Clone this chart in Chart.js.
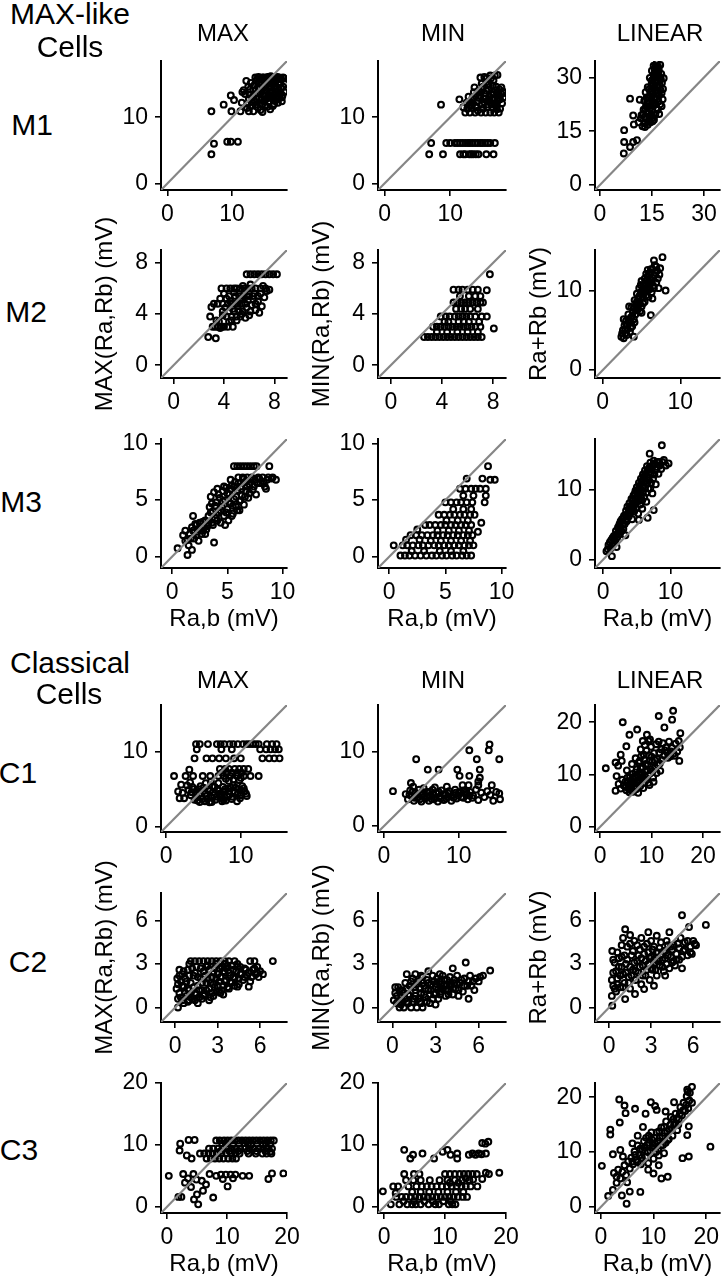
<!DOCTYPE html>
<html><head><meta charset="utf-8">
<script src="https://cdn.jsdelivr.net/npm/chart.js@4.4.1/dist/chart.umd.min.js"></script>
<style>
html,body{margin:0;padding:0;background:#fff;overflow:hidden;}
#page{position:relative;width:726px;height:1280px;font-family:'Liberation Sans',Arial,Helvetica,sans-serif;color:#000;}
.lbl{position:absolute;white-space:nowrap;line-height:1;transform:translate(-50%,-50%);}
canvas{position:absolute;}
</style></head><body><div id="page"></div>
<script>
// ---------- categories / labels ----------
const ROW_NAMES = ['M1','M2','M3','C1','C2','C3'];
const COL_NAMES = ['MAX','MIN','LINEAR'];
const Y_TITLES = ['MAX(Ra,Rb) (mV)','MIN(Ra,Rb) (mV)','Ra+Rb (mV)'];
const X_TITLE = 'Ra,b (mV)';
const SECTION_1 = ['MAX-like','Cells'];
const SECTION_2 = ['Classical','Cells'];

// ---------- axis ranges (same for x and y in each panel) ----------
const M1_RANGE = [[-1,18.5],[-1,18.5],[-1.4,34.6]];
const M2_RANGE = [[-1,9],[-1,9],[-1,15.1]];
const M3_RANGE = [[-1,10.4],[-1,10.4],[-1.2,17.3]];
const C1_RANGE = [[-0.7,16.2],[-0.8,16.3],[-1,23.3]];
const C2_RANGE = [[-1,7.9],[-1,7.9],[-1,7.9]];
const C3_RANGE = [[-1,20],[-1,20],[-1.1,22.6]];

// ---------- tick labels ----------
const M1_TICKS = [[0,10],[0,10],[0,15,30]];
const M2_TICKS = [[0,4,8],[0,4,8],[0,10]];
const M3_TICKS = [[0,5,10],[0,5,10],[0,10]];
const C1_TICKS = [[0,10],[0,10],[0,10,20]];
const C2_TICKS = [[0,3,6],[0,3,6],[0,3,6]];
const C3_TICKS = [[0,10,20],[0,10,20],[0,10,20]];

// ---------- series values [Ra,b , response] ----------
const M1_MAX = [[6.8,4.4],[7.2,6.0],[6.8,10.9],[8.7,11.9],[9.8,13.3],[9.25,6.3],[9.8,6.3],[10.9,6.3],[9.9,10.9],[10.3,12.6],[11.3,10.9],[12.6,10.9],[11.6,13.8],[15.5,11.6],[17.9,16.0],
[11.5,12.2],[12,13.5],[12.3,11.4],[12.6,12.8],[12.8,14.2],[13,11.8],[13.2,13.1],[13.4,14.8],[13.5,12.4],[13.7,15.5],[13.9,13.6],[14,11.5],[14.2,12.9],[14.3,14.3],[14.5,15.8],[14.6,12],[14.8,13.4],[14.9,16],[15,14.8],[15.1,11.8],[15.2,12.7],[15.3,15.4],[15.4,13.9],[15.5,16.1],[15.6,12.3],[15.7,14.5],[15.8,13.1],[15.9,15.8],[16,16.2],[16.1,12.9],[16.2,14],[16.3,15.1],[16.4,13.4],[16.5,16],[16.6,12.5],[16.7,14.7],[16.8,13.8],[16.9,15.6],[17,16.1],[17.1,13.2],[17.2,14.2],[17.3,12.9],[17.4,15.3],[17.5,13.7],[17.6,14.4],[17.8,13.3],[18,15.9],[13.6,16],[14.1,16.1],[15.8,16.1],[16.7,16],[12.9,15.2],[11.8,14.1],[12.2,15.5],[14.4,11.1],[15.9,11.2],[16.3,11.7],[17.1,12.2],[17.7,12.4],[13.3,10.9],[14.7,10.8],
[12.4,12.0],[12.7,13.4],[13.1,12.3],[13.3,14.1],[13.6,11.9],[13.8,12.8],[14.0,14.6],[14.2,15.3],[14.4,13.7],[14.6,14.9],[14.9,12.4],[15.1,13.2],[15.3,14.1],[15.5,12.9],[15.7,15.1],[15.9,13.7],[16.1,14.5],[16.3,13.0],[16.5,12.0],[16.6,15.4],[16.8,14.3],[17.0,12.8],[17.2,15.0],[17.4,13.4],[17.6,15.8],[17.9,14.6],[18.1,13.8],[16.0,15.3],[15.2,15.9],[14.7,16.0],[13.9,15.8],[17.7,13.0],[16.9,13.0],[15.0,13.6],[14.5,12.6],[13.5,13.5],[12.5,14.6],[18.2,15.0],[17.3,16.0],[16.2,16.0]];
const M1_MIN = [[8.6,11.9],
[7.1,6.1],[9.4,6.1],[10.0,6.1],[10.7,6.1],[11.1,6.1],[11.5,6.1],[12.3,6.1],[12.7,6.1],[13.0,6.1],[13.8,6.1],[14.2,6.1],[14.6,6.1],[15.3,6.1],[15.7,6.1],[16.1,6.1],[16.8,6.1],[11.9,6.1],[13.4,6.1],[14.9,6.1],
[6.8,4.4],[8.9,4.4],[11.5,4.4],[12.3,4.4],[12.9,4.4],[13.5,4.4],[14.3,4.4],[15.5,4.4],[16.6,4.4],[12.0,4.4],[13.2,4.4],[13.9,4.4],
[11.4,12.7],[12,11.5],[12.3,10.7],[12.5,12.2],[12.8,13.1],[13,10.7],[13.2,11.8],[13.4,12.9],[13.6,13.8],[13.8,10.7],[14,11.6],[14.1,12.5],[14.3,14],[14.5,13.2],[14.6,16],[14.7,10.7],[14.9,11.9],[15,14.6],[15.1,12.8],[15.3,13.6],[15.4,10.7],[15.5,15.3],[15.6,11.5],[15.7,12.4],[15.8,14.2],[16,13.1],[16.1,10.7],[16.2,15.9],[16.3,11.9],[16.4,12.7],[16.5,14.8],[16.6,13.5],[16.7,10.7],[16.8,16.3],[16.9,14.1],[17,12.2],[17.1,11.2],[17.2,13.8],[17.3,12.8],[17.5,14.2],[17.6,11.3],[17.8,13.5],[18,13.9],[18.2,13.7],[17.2,16.4],[16.1,16.3],[15.2,16.1],[13.7,14.5],[14.8,15.1],[17.4,10.7],[13.3,11.4],[17.1,11.6],
[12.6,11.3],[13.0,12.4],[13.5,12.1],[13.9,13.2],[14.2,11.0],[14.4,12.9],[14.7,13.8],[15.0,11.3],[15.2,12.3],[15.5,14.0],[15.8,11.9],[16.0,12.6],[16.3,13.4],[16.5,11.4],[16.7,12.9],[17.0,14.6],[17.2,12.4],[17.4,13.3],[17.6,12.7],[17.9,12.1],[18.1,13.0],[15.9,14.9],[16.6,15.6],[14.9,14.2],[13.9,11.5],[12.9,11.8],[15.4,12.8],[17.8,14.5],[16.9,11.8],[15.6,15.9]];
const M1_LIN = [[6.9,8.8],[7.0,12.0],[7.0,15.3],[8.7,10.6],[9.6,12.0],[10.7,12.5],[8.7,24.1],[11.5,23.8],[9.6,19.4],[9.8,16.9],[15.6,18.2],
[11.2,17.5],[11.8,18.6],[12.3,16.4],[12.5,19.8],[12.9,17.2],[13.1,21.3],[13.4,18.4],[13.6,22.9],[13.8,16.8],[14,20.1],[14.1,24.6],[14.3,19.2],[14.5,26.1],[14.6,17.5],[14.7,22.2],[14.9,27.8],[15,23.6],[15.1,20.7],[15.2,29.3],[15.3,25.4],[15.4,18.8],[15.5,30.8],[15.6,26.9],[15.7,22.9],[15.8,32.2],[15.9,28.5],[16,24.4],[16.1,33.2],[16.2,30.1],[16.3,21.5],[16.4,27.3],[16.5,31.6],[16.6,25.6],[16.7,29.1],[16.8,33],[16.9,23.3],[17,30.6],[17.2,27.9],[17.4,22.5],[17.6,29.5],[17.8,25.7],[18.1,23.9],[18.4,29.8],[13.2,25.9],[13.8,27.3],[12.8,23.5],[14.4,29.9],[15,31.9],[16,19.6],[17.1,19.8],
[12.0,19.5],[12.6,21.0],[13.0,19.0],[13.3,22.0],[13.5,24.4],[13.7,20.0],[14.0,22.9],[14.2,26.7],[14.4,21.4],[14.6,24.8],[14.8,19.6],[14.9,29.1],[15.1,26.0],[15.3,22.1],[15.4,28.3],[15.6,30.0],[15.7,24.2],[15.9,31.3],[16.0,26.4],[16.2,28.8],[16.3,32.5],[16.5,24.0],[16.6,30.4],[16.8,27.5],[17.0,32.0],[17.1,25.0],[17.3,30.0],[17.5,26.5],[17.7,31.0],[17.9,28.5],[15.2,17.8],[16.7,21.0],[14.1,18.0],[13.0,16.2],[15.5,33.3],[16.4,34.0],[17.4,33.5],[18.2,26.8],[17.8,22.0],[16.0,22.9]];

const M2_MAX = [[3.0,4.55],[2.9,3.8],[2.75,2.2],[3.35,2.1],
[5.8,7.1],[6.1,7.1],[6.4,7.1],[6.7,7.1],[7.0,7.1],[7.3,7.1],[7.6,7.1],[7.9,7.1],[8.2,7.1],
[3.8,6.0],[4.2,6.0],[4.5,6.0],[4.8,6.0],[5.0,6.0],[5.3,6.0],[5.6,6.0],[5.9,6.0],[6.2,6.0],[6.5,6.0],[6.9,6.0],[7.3,6.0],[7.6,5.9],
[4.4,5.4],[4.9,5.4],[5.2,5.4],[5.5,5.4],[5.8,5.4],[6.0,5.4],[6.3,5.4],[6.7,5.4],
[3.2,4.8],[3.5,4.8],[3.9,4.8],[4.3,4.8],[4.6,4.8],[4.9,4.8],[5.1,4.8],[5.4,4.8],[5.7,4.8],[6.5,4.8],
[3.9,4.2],[4.4,4.2],[4.8,4.2],[5.2,4.2],[5.5,4.2],[6.1,4.2],
[4.2,3.8],[4.6,3.8],[5.0,3.8],[5.3,3.8],
[3.1,3.0],[3.3,3.0],[3.5,3.0],[3.8,3.0],[4.0,3.0],[4.3,3.0],[4.7,3.0],
[3.7,5.2],[4.0,5.6],[4.1,4.5],[4.4,3.4],[4.5,5.0],[4.7,4.4],[4.8,5.7],[5.0,3.5],[5.1,4.6],[5.3,5.1],[5.4,4.0],[5.6,5.6],[5.8,4.5],[5.9,5.1],[6.0,3.9],[6.2,4.7],[6.4,5.6],[6.5,4.3],[6.7,5.0],[6.9,5.6],[7.0,4.6],[7.2,5.3],[7.4,5.8],[6.8,4.1],[5.7,3.7],[4.6,3.5],[3.6,3.4],[3.9,3.9],[4.2,5.2],[5.5,6.2],[6.1,6.3],[7.1,6.2],[3.4,3.5],[3.7,2.9]];
const M2_MIN = [[2.6,2.2],[2.9,2.2],[3.2,2.2],[3.5,2.2],[3.8,2.2],[4.1,2.2],[4.4,2.2],[4.7,2.2],[5.0,2.2],[5.3,2.2],[5.6,2.2],[5.9,2.2],[6.2,2.2],[6.5,2.2],[6.8,2.2],[7.1,2.2],
[3.3,3.0],[3.6,3.0],[3.9,3.0],[4.2,3.0],[4.5,3.0],[4.8,3.0],[5.1,3.0],[5.4,3.0],[5.7,3.0],[6.0,3.0],[6.3,3.0],[6.6,3.0],[7.0,3.0],
[3.9,3.8],[4.3,3.8],[4.6,3.8],[5.0,3.8],[5.3,3.8],[5.6,3.8],[5.9,3.8],[6.2,3.8],[6.6,3.8],[7.1,3.8],
[4.9,4.9],[5.2,4.9],[5.5,4.9],[5.8,4.9],[6.1,4.9],[6.4,4.9],[6.7,4.9],[7.0,4.9],
[4.9,5.9],[5.3,5.9],[5.6,5.9],[6.0,5.9],[6.4,5.9],[6.8,5.9],[7.5,5.86],
[7.74,7.1],[8.05,2.87],[7.5,3.8],[7.2,4.9],[5.5,4.4],[6.2,4.4],[6.6,5.4],
[3.6,2.6],[4.4,2.6],[5.2,2.6],[6.0,2.6],[6.8,2.6],[4.5,3.4],[5.3,3.4],[6.1,3.4],[6.9,3.4],[5.1,4.4],[5.8,4.4],[6.8,4.4],[5.4,5.4],[6.1,5.4],[7.0,5.4],[4.2,3.4],[5.7,3.4]];
const M2_LIN = [[2.4,4.2],[2.7,4.0],[2.9,4.6],[2.6,5.0],[2.8,5.6],[3.1,4.4],[3.2,5.2],[3.0,6.2],[3.4,5.9],[3.5,4.8],[3.6,6.6],[3.3,7.0],[3.8,5.5],[3.9,7.3],[4.0,6.4],[3.7,7.9],[4.2,7.0],[4.3,8.2],[4.1,8.8],[4.5,7.6],[4.6,9.0],[4.4,9.6],[4.8,8.3],[4.9,9.8],[4.7,10.3],[5.0,7.2],[5.1,9.1],[5.2,10.6],[5.0,11.2],[5.4,8.6],[5.5,9.9],[5.4,11.5],[5.7,10.4],[5.8,11.8],[5.6,12.1],[5.9,9.2],[6.0,10.9],[6.1,12.3],[6.2,11.4],[6.3,9.8],[6.4,12.7],[6.5,10.6],[6.6,11.9],[6.7,13.2],[6.9,11.0],[7.0,12.5],[7.2,10.3],[6.2,6.9],[7.7,14.2],[7.4,12.8],[8.1,10.0],[3.4,8.0],[4.0,4.2],[2.7,6.4],
[2.5,4.6],[2.9,5.1],[3.1,5.7],[3.3,6.3],[3.5,6.1],[3.6,5.3],[3.8,6.8],[4.0,7.8],[4.1,6.0],[4.3,7.5],[4.4,8.6],[4.6,8.3],[4.7,9.3],[4.8,7.4],[4.9,10.7],[5.0,8.0],[5.1,10.0],[5.2,8.4],[5.3,9.6],[5.5,10.8],[5.6,9.4],[5.7,11.2],[5.8,10.0],[5.9,11.0],[6.0,12.0],[6.1,10.2],[6.2,12.7],[6.3,11.0],[6.5,11.6],[6.6,10.3],[6.8,12.2],[6.9,13.0],[7.1,11.5],[7.3,12.0],[6.4,9.0],[5.8,12.6],[6.6,13.8]];

const M3_MAX = [[0.5,0.74],[1.4,0.15],[1.8,0.6],[1.9,3.6],[3.8,1.25],[5.3,6.8],[6.1,4.1],[4.8,2.8],[9.4,6.8],[8.5,6.0],
[5.6,8],[5.9,8],[6.2,8],[6.5,8],[6.8,8],[7.1,8],[7.4,8],[7.65,8],[8.8,8],
[1.0,1.9],[1.2,2.3],[1.4,1.5],[1.6,2.0],[1.8,2.6],[1.5,1.0],[2.0,1.6],[2.1,2.9],[2.3,2.2],[2.4,1.4],[2.6,3.0],[2.7,2.0],[2.9,2.6],[3.0,3.2],[3.2,2.7],[3.3,3.6],[3.4,4.4],[3.5,5.3],[3.6,3.0],[3.7,4.0],[3.8,5.7],[3.9,3.4],[4.0,4.8],[4.1,6.0],[4.2,3.9],[4.3,5.2],[4.4,3.0],[4.5,4.4],[4.6,5.8],[4.7,3.6],[4.8,5.0],[4.9,6.1],[5.0,4.2],[5.1,3.2],[5.2,5.5],[5.3,4.7],[5.4,6.3],[5.5,3.8],[5.6,5.1],[5.7,6.6],[5.8,4.4],[5.9,5.9],[6.0,7.0],[6.1,4.9],[6.2,6.2],[6.3,5.4],[6.4,7.0],[6.5,4.6],[6.6,6.6],[6.7,5.8],[6.8,7.0],[6.9,5.2],[7.0,6.4],[7.2,7.0],[7.3,5.9],[7.5,6.8],[7.6,5.5],[7.8,7.0],[8.0,6.5],[8.2,7.0],[8.4,6.2],[8.7,7.0],[9.0,6.9],[9.1,7.0],[2.5,3.0],[2.8,3.1],[2.2,2.8],[3.1,2.4],
[1.2,1.4],[1.7,1.6],[1.9,2.3],[2.2,1.9],[2.5,2.5],[2.8,2.3],[3.0,2.0],[3.3,3.0],[3.5,3.9],[3.6,4.7],[3.9,4.5],[4.0,3.7],[4.2,5.5],[4.4,4.1],[4.6,4.9],[4.7,6.2],[4.9,3.9],[5.0,5.6],[5.2,4.7],[5.3,6.0],[5.5,4.5],[5.6,6.2],[5.8,5.3],[5.9,4.1],[6.0,6.5],[6.2,5.0],[6.3,6.0],[6.5,6.9],[6.6,5.3],[6.8,6.2],[7.0,5.6],[7.1,6.8],[7.4,6.2],[7.7,6.5],[7.9,6.9],[8.3,6.6],[8.6,6.8],[4.1,3.2],[3.7,2.8],[5.4,3.6]];
const M3_MIN = [[1.0,0.1],[1.4,0.1],[1.8,0.1],[2.3,0.1],[2.8,0.1],[3.3,0.1],[3.8,0.1],[4.2,0.1],[4.7,0.1],[5.1,0.1],[5.6,0.1],[6.0,0.1],[6.5,0.1],[6.9,0.1],[7.3,0.1],
[0.4,1.0],[1.2,1.0],[1.6,1.0],[2.1,1.0],[2.6,1.0],[3.0,1.0],[3.5,1.0],[4.0,1.0],[4.4,1.0],[4.9,1.0],[5.3,1.0],[5.8,1.0],[6.2,1.0],[6.7,1.0],[7.1,1.0],[7.5,1.0],
[1.9,1.9],[2.4,1.9],[2.9,1.9],[3.4,1.9],[3.9,1.9],[4.3,1.9],[4.8,1.9],[5.2,1.9],[5.7,1.9],[6.1,1.9],[6.6,1.9],[7.0,1.9],[7.4,1.9],
[3.2,2.8],[3.6,2.8],[4.1,2.8],[4.6,2.8],[5.0,2.8],[5.5,2.8],[5.9,2.8],[6.4,2.8],[6.8,2.8],[7.3,2.8],[8.2,3.0],
[4.4,3.7],[4.9,3.7],[5.4,3.7],[5.8,3.7],[6.3,3.7],[6.7,3.7],[7.2,3.7],[7.6,3.7],
[5.0,4.8],[5.5,4.8],[6.0,4.8],[6.4,4.8],[6.9,4.8],[7.4,4.8],[8.5,4.8],
[6.3,6.0],[6.8,6.0],[7.3,6.0],[7.7,6.0],[8.1,6.0],[8.6,6.0],
[8.8,8.0],[6.9,6.9],[8.3,6.9],[9.4,6.8],[7.9,2.2],[9.0,6.8],[8.6,5.4],[2.5,2.4],[1.5,1.5],
[2.0,0.5],[3.1,0.5],[4.5,0.5],[5.5,0.5],[6.6,0.5],[2.7,1.5],[3.7,1.4],[4.6,1.4],[5.5,1.4],[6.4,1.4],[7.2,1.4],[4.3,2.3],[5.3,2.3],[6.2,2.3],[7.1,2.3],[5.1,3.2],[6.1,3.2],[7.0,3.2],[5.7,4.2],[6.6,4.2],[7.3,4.2],[6.6,5.4],[7.5,5.4]];
const M3_LIN = [[0.5,1.2],[0.8,2.1],[1.1,1.6],[1.2,2.8],[1.5,2.2],[1.6,3.4],[1.8,2.7],[1.9,4.1],[2.1,3.2],[2.2,4.6],[2.4,3.6],[2.5,5.2],[2.7,4.1],[2.8,5.8],[3.0,4.4],[3.1,6.3],[3.2,5.1],[3.4,7.0],[3.5,5.5],[3.6,7.6],[3.8,6.2],[3.9,8.1],[4.0,6.6],[4.1,7.3],[4.2,8.7],[4.3,5.8],[4.4,7.8],[4.5,9.2],[4.6,6.9],[4.7,8.4],[4.8,9.9],[4.9,7.4],[5.0,10.4],[5.1,8.9],[5.2,6.6],[5.3,11.0],[5.4,9.5],[5.5,7.9],[5.6,11.6],[5.7,10.0],[5.8,8.5],[5.9,12.2],[6.0,10.6],[6.1,9.0],[6.2,12.8],[6.3,11.3],[6.4,9.6],[6.5,13.4],[6.6,11.9],[6.7,10.2],[6.8,12.5],[7.0,13.9],[7.1,11.0],[7.2,12.9],[7.3,9.5],[7.5,14.2],[7.6,12.2],[7.8,10.8],[8.0,13.3],[8.3,14.0],[8.6,13.0],[8.7,16.4],[9.0,14.3],[9.3,13.5],[3.3,3.5],[2.0,1.8],[5.3,5.7],[6.9,15.2],[9.7,13.8],[1.3,0.5],[2.6,5.5],[6.6,6.0],[7.5,7.1],
[0.7,1.5],[1.0,2.5],[1.3,2.0],[1.4,3.1],[1.7,3.0],[2.0,3.6],[2.3,4.0],[2.4,5.0],[2.6,4.6],[2.9,5.0],[3.0,6.0],[3.3,5.6],[3.4,6.4],[3.7,6.6],[3.8,7.2],[4.0,7.7],[4.2,7.0],[4.4,8.5],[4.5,7.4],[4.7,9.5],[4.8,8.0],[5.0,9.1],[5.1,10.0],[5.3,8.4],[5.4,10.6],[5.6,9.0],[5.7,11.2],[5.9,9.6],[6.0,11.9],[6.2,10.3],[6.3,12.3],[6.5,10.9],[6.6,12.9],[6.8,11.4],[6.9,13.3],[7.1,12.4],[7.3,13.5],[7.4,11.6],[7.6,13.8],[7.8,12.9],[8.0,14.0],[8.2,12.3],[8.4,13.5],[8.8,14.0],[7.0,10.2],[6.4,8.3],[5.8,7.3]];

const C1_MAX = [[4.0,11],[4.5,11],[5.6,11],[6.8,11],[7.3,11],[7.8,11],[8.5,11],[9.0,11],[9.6,11],[10.3,11],[10.8,11],[11.2,11],[11.6,11],[12.0,11],[12.4,11],[13.5,11],[14.2,11],[14.8,11],
[4.1,10.3],[7.4,10.3],[8.8,10.3],[12.6,10.3],[13.4,10.3],[14.0,10.3],[14.6,10.3],[15.1,10.3],
[3.8,9.1],[5.4,9.1],[6.2,9.1],[7.1,9.1],[8.0,9.1],[9.1,9.1],[10.0,9.1],[12.9,9.1],[13.8,9.1],[14.5,9.1],[15.2,9.1],
[7.2,7.7],[7.9,7.7],[8.4,7.7],[9.2,7.7],[9.8,7.7],[10.4,7.7],[11.0,7.7],
[1.05,6.75],[2.6,6.75],[3.6,6.75],[4.9,6.75],[5.9,6.75],[7.0,6.75],[7.7,6.75],[8.6,6.75],[9.5,6.75],[10.4,6.75],[11.3,6.75],[12.4,6.75],
[2.0,5.6],[2.2,4.5],[2.4,3.8],[3.0,4.9],[3.3,4.2],[3.5,5.3],[3.8,3.6],[4.0,4.6],[4.3,5.0],[4.5,3.3],[4.7,4.1],[5.0,5.2],[5.2,4.4],[5.5,3.7],[5.8,3.25],[5.9,4.8],[6.2,5.4],[6.4,4.2],[6.6,3.6],[6.9,5.0],[7.1,4.4],[7.3,3.9],[7.6,5.3],[7.8,4.7],[8.0,3.5],[8.3,5.1],[8.5,4.3],[8.8,3.7],[9.0,5.5],[9.2,4.6],[9.5,3.4],[9.7,5.0],[10.0,4.2],[10.2,5.4],[10.5,4.7],[10.8,4.1],[6.0,6.0],[8.4,6.1],[9.8,6.2],[3.2,5.9],[1.6,4.7],[1.8,3.8],[3.1,7.6],[2.8,5.5],[5.3,5.8],[7.0,5.8],
[3.4,4.6],[3.7,5.0],[4.1,3.9],[4.4,4.4],[4.6,5.4],[4.9,3.7],[5.1,4.8],[5.4,4.1],[5.6,5.0],[6.0,3.9],[6.3,4.6],[6.5,5.3],[6.8,4.0],[7.0,4.8],[7.4,4.2],[7.7,3.6],[7.9,5.0],[8.2,4.0],[8.4,4.7],[8.7,5.2],[8.9,4.0],[9.3,5.2],[9.6,4.4],[9.9,3.8],[10.1,4.8],[10.4,5.1],[10.7,4.4],[6.1,3.3],[7.5,3.4],[5.2,3.4],[4.2,3.5],
[7.5,7.2],[8.1,7.2],[8.8,7.2],[9.5,7.2],[10.1,7.2],[9.0,6.3],[10.0,6.5],[8.0,6.4]];
const C1_MIN = [[2.9,4.3],[3.2,3.6],[3.5,4.8],[3.7,4.0],[4.0,3.4],[4.2,4.5],[4.5,3.8],[4.7,4.9],[5.0,3.3],[5.2,4.2],[5.5,3.7],[5.7,4.6],[6.0,3.4],[6.2,4.1],[6.5,4.9],[6.7,3.6],[7.0,4.4],[7.2,3.3],[7.5,4.0],[7.7,4.8],[8.0,3.5],[8.2,4.3],[8.5,3.9],[8.7,4.7],[9.0,3.4],[9.2,4.2],[9.5,4.9],[9.7,3.7],[10.0,4.5],[10.3,3.9],[10.6,4.8],[10.9,4.3],[11.2,3.6],[11.5,4.6],[11.9,4.1],[12.3,4.9],[12.6,3.5],[13.0,4.5],[13.4,3.9],[13.8,4.7],[14.2,4.2],[14.6,3.4],[15.0,4.6],[15.5,3.6],[15.4,4.4],[3.9,5.3],[5.3,5.1],[6.8,5.2],[8.4,5.3],[10.5,5.5],
[1.2,4.7],[4.3,9.0],[5.85,7.6],[7.3,7.6],[9.8,7.6],[10.1,6.76],[11.4,6.76],[12.8,7.6],[11.4,10.2],[14.0,10.2],[14.1,11.0],[12.4,9.0],[15.4,9.0],[12.8,6.5],[14.4,5.5],[11.3,5.5],[12.6,5.5],[12.6,6.0],[3.6,5.8],
[3.4,4.2],[3.8,4.6],[4.1,3.8],[4.4,4.2],[4.8,3.6],[5.1,4.6],[5.4,4.0],[5.8,3.9],[6.1,4.6],[6.4,3.6],[6.6,4.3],[6.9,3.8],[7.3,4.6],[7.6,3.7],[7.9,4.3],[8.3,3.7],[8.6,4.4],[8.9,4.0],[9.3,3.8],[9.6,4.5],[9.9,4.1],[10.2,4.6],[10.6,3.8],[11.0,4.6],[11.4,4.1],[11.8,3.8]];
const C1_LIN = [[3.6,8.2],[4.0,7.3],[4.3,9.0],[4.6,7.9],[4.9,8.6],[5.1,7.0],[5.3,9.4],[5.5,8.0],[5.7,6.6],[5.9,8.8],[6.1,7.5],[6.3,10.1],[6.4,6.7],[6.6,8.4],[6.8,9.6],[7.0,7.2],[7.1,11.0],[7.3,8.9],[7.5,12.3],[7.6,10.2],[7.8,7.8],[8.0,13.5],[8.1,9.3],[8.3,11.4],[8.5,8.4],[8.6,12.8],[8.8,10.6],[9.0,14.6],[9.1,9.0],[9.3,11.9],[9.5,13.7],[9.7,10.2],[9.9,15.3],[10.1,12.5],[10.3,9.4],[10.5,14.1],[10.7,11.3],[10.9,15.8],[11.1,13.0],[11.4,16.3],[11.6,12.1],[11.9,14.8],[12.2,16.0],[12.5,13.6],[12.8,15.2],[13.1,14.2],[13.4,16.3],[13.7,13.5],[14.0,15.1],[14.3,14.0],[14.7,15.9],[15.0,14.4],[15.3,16.4],[15.5,15.2],[6.9,13.1],[7.9,14.8],[8.7,15.6],[9.4,16.4],[5.2,10.8],[6.2,12.0],[7.4,6.5],[9.6,8.0],[10.4,8.6],[11.0,10.3],
[1.1,11.2],[4.4,20.0],[7.2,18.6],[5.7,17.6],[5.1,15.4],[4.0,13.8],[3.0,12.3],[3.0,6.9],[3.2,9.7],[11.4,21.2],[14.2,22.2],[14.0,20.5],[15.6,17.9],[12.5,19.0],[15.4,12.6],[11.7,10.7],[9.1,17.6],[8.3,16.4],[9.7,16.7],[3.5,11.7],[4.2,12.6],
[5.0,7.6],[5.4,8.6],[5.6,7.3],[5.8,9.5],[6.0,8.2],[6.2,6.9],[6.5,9.1],[6.7,7.7],[6.9,10.4],[7.2,8.3],[7.4,9.6],[7.7,8.7],[7.9,11.2],[8.2,10.0],[8.4,7.4],[8.7,9.6],[8.9,12.0],[9.2,10.8],[9.4,8.4],[9.6,12.6],[9.8,11.0],[10.0,13.4],[10.2,10.6],[10.6,12.8],[11.2,11.8],[11.5,14.2],[12.0,12.8],[12.6,14.6],[13.2,13.2],[13.8,14.4],[14.5,13.6],[7.7,12.6],[8.5,13.8]];

const C2_MAX = [[1.1,3.2],[1.4,3.2],[1.7,3.2],[2.0,3.2],[2.3,3.2],[2.6,3.2],[2.9,3.2],[3.2,3.2],[3.5,3.2],[3.8,3.2],[4.2,3.2],[5.3,3.2],[5.6,3.2],[6.9,3.2],
[0.1,1.3],[0.2,0.6],[0.3,1.0],[0.4,1.8],[0.5,2.3],[0.5,0.5],[0.6,1.4],[0.7,2.0],[0.8,0.8],[0.9,2.6],[1.0,1.2],[1.1,1.7],[1.2,0.6],[1.3,2.2],[1.4,1.0],[1.5,2.8],[1.6,1.5],[1.7,0.7],[1.8,2.0],[1.9,1.2],[2.0,2.5],[2.1,0.9],[2.2,1.7],[2.3,2.9],[2.4,1.3],[2.5,0.7],[2.6,2.1],[2.7,1.6],[2.8,2.7],[2.9,1.1],[3.0,2.3],[3.1,1.8],[3.2,1.0],[3.3,2.8],[3.4,1.5],[3.5,2.4],[3.6,1.9],[3.7,2.9],[3.8,1.3],[3.9,2.2],[4.0,1.7],[4.1,2.6],[4.2,2.0],[4.4,2.8],[4.5,1.6],[4.6,2.3],[4.8,1.9],[4.9,2.7],[5.1,2.2],[5.3,1.8],[5.5,2.6],[5.7,2.3],[4.4,1.44],[5.2,1.44],[5.8,2.8],[6.0,2.5],[6.2,2.3],[5.9,2.1],[0.2,0.0],[0.3,2.6],[0.9,0.4],[1.6,0.3],[2.4,0.5],[0.15,2.0],[3.4,0.9],[2.9,3.0],[1.0,3.0],
[0.2,1.6],[0.3,2.2],[0.4,0.7],[0.5,1.5],[0.6,2.5],[0.7,1.0],[0.8,1.8],[0.9,1.3],[1.0,2.2],[1.1,0.7],[1.2,2.7],[1.3,1.4],[1.4,2.4],[1.5,0.9],[1.6,2.1],[1.7,1.2],[1.8,2.7],[1.9,1.7],[2.0,0.8],[2.1,2.2],[2.2,1.2],[2.3,2.0],[2.4,2.6],[2.5,1.7],[2.6,1.0],[2.7,2.4],[2.8,1.4],[2.9,2.0],[3.0,1.5],[3.1,2.7],[3.2,2.1],[3.3,1.2],[3.4,2.5],[3.5,1.8],[3.6,2.7],[3.7,1.4],[3.8,2.4],[3.9,1.8],[4.0,2.9],[4.1,2.1],[4.2,1.5],[4.3,2.5],[4.5,2.0],[4.6,2.8],[4.7,2.3],[4.9,2.1],[5.0,2.6],[5.2,2.4],[5.4,2.1],[5.6,2.7],[5.8,2.4],[1.0,0.5],[1.9,0.6],[2.7,0.8],[3.1,1.1],[0.6,0.3],[1.4,0.5],[2.2,2.8],[3.5,3.0],[4.4,3.0]];
const C2_MIN = [[0.1,0.5],[0.2,1.0],[0.3,0.3],[0.4,1.4],[0.5,0.0],[0.6,0.7],[0.7,1.2],[0.8,0.0],[0.9,1.7],[1.0,0.4],[1.0,2.3],[1.1,0.9],[1.2,1.5],[1.3,0.0],[1.4,2.0],[1.5,0.6],[1.6,1.2],[1.7,0.0],[1.8,1.8],[1.9,0.4],[2.0,1.0],[2.1,2.1],[2.1,0.0],[2.2,1.5],[2.3,0.7],[2.4,1.9],[2.5,1.2],[2.6,0.3],[2.7,1.6],[2.8,2.2],[2.9,0.9],[3.0,1.4],[3.1,2.0],[3.2,0.6],[3.3,1.8],[3.4,1.1],[3.5,2.2],[3.6,1.5],[3.7,0.8],[3.8,1.9],[3.9,1.2],[4.0,2.1],[4.1,1.6],[4.2,0.9],[4.3,1.9],[4.4,1.3],[4.5,2.2],[4.7,1.7],[4.9,1.1],[5.0,2.0],[5.2,1.5],[5.4,2.2],[5.6,1.8],[5.8,2.0],[6.1,2.1],[6.8,2.55],[5.1,3.1],[5.3,0.6],[4.2,2.7],[0.2,1.4],[3.0,0.2],[2.5,2.5],[4.6,0.8],[5.7,1.2],
[0.3,0.8],[0.5,1.2],[0.6,0.2],[0.7,0.5],[0.8,1.0],[0.9,0.6],[1.0,1.3],[1.1,0.3],[1.2,0.8],[1.3,1.8],[1.4,0.4],[1.5,1.4],[1.6,0.8],[1.7,1.6],[1.8,0.6],[1.9,1.3],[2.0,0.3],[2.1,1.7],[2.2,0.9],[2.3,1.3],[2.4,0.4],[2.5,1.7],[2.6,0.9],[2.7,1.2],[2.8,0.6],[2.9,1.8],[3.0,1.0],[3.1,1.6],[3.2,1.3],[3.3,0.9],[3.4,1.6],[3.5,1.3],[3.6,1.9],[3.7,1.2],[3.8,1.6],[3.9,0.9],[4.0,1.5],[4.2,1.3],[4.3,1.7],[4.5,1.6],[4.6,1.2],[4.8,1.9],[5.0,1.5],[5.3,1.8],[5.5,1.5],[6.0,1.8],[6.3,2.2],[2.0,2.2],[3.3,2.3],[1.6,2.3]];
const C2_LIN = [[0.2,0.8],[0.3,1.5],[0.3,2.4],[0.4,3.1],[0.5,1.1],[0.6,2.0],[0.7,2.8],[0.8,1.4],[0.9,3.5],[1.0,2.3],[1.1,1.7],[1.2,3.0],[1.3,4.2],[1.4,2.1],[1.5,1.3],[1.6,3.6],[1.7,2.6],[1.8,4.6],[1.9,1.9],[2.0,3.2],[2.1,2.4],[2.2,4.0],[2.3,1.6],[2.4,2.9],[2.5,3.7],[2.6,2.2],[2.7,4.4],[2.8,3.0],[2.9,1.9],[3.0,3.5],[3.1,2.6],[3.2,4.2],[3.3,3.1],[3.4,2.2],[3.5,3.8],[3.6,2.9],[3.7,4.5],[3.8,3.3],[3.9,2.5],[4.0,3.9],[4.1,3.0],[4.2,4.3],[4.3,2.7],[4.4,3.5],[4.5,4.0],[4.6,3.2],[4.7,2.9],[4.8,3.7],[4.9,4.4],[5.0,3.3],[5.1,4.8],[5.3,3.9],[5.4,4.5],[5.6,3.6],[5.8,4.2],[6.0,4.6],[6.1,4.4],[5.2,6.37],[6.9,5.7],[1.15,5.4],[0.23,3.9],[5.7,5.55],[5.9,3.7],[5.2,2.7],[2.8,5.2],[3.4,4.95],[4.3,5.2],[0.23,0.12],[1.15,0.58],[1.85,0.93],[2.5,1.27],[1.0,4.8],[1.5,5.0],[0.6,3.8],[3.2,1.5],[4.0,2.2],
[0.2,1.9],[0.3,3.3],[0.4,1.3],[0.5,2.5],[0.6,1.6],[0.7,3.4],[0.8,2.2],[0.9,2.8],[1.0,1.4],[1.1,3.6],[1.2,2.4],[1.3,3.3],[1.4,1.7],[1.5,2.8],[1.6,2.2],[1.7,3.9],[1.8,3.1],[1.9,2.5],[2.0,4.3],[2.1,3.6],[2.2,2.8],[2.3,3.4],[2.4,2.2],[2.5,4.2],[2.6,3.2],[2.7,2.6],[2.8,3.8],[2.9,3.4],[3.0,2.7],[3.1,4.0],[3.2,3.3],[3.3,2.6],[3.4,3.8],[3.5,3.2],[3.6,4.1],[3.7,3.6],[3.8,2.8],[3.9,3.9],[4.0,3.4],[4.1,4.6],[4.2,3.6],[4.4,4.2],[4.5,3.1],[4.6,4.3],[4.8,3.3],[5.0,4.1],[5.2,3.5],[5.4,4.0],[5.6,4.6],[5.8,3.8],[6.2,4.3],[1.5,4.4],[2.3,4.8],[3.0,4.6],[0.9,4.3]];

const C3_MAX = [[8.2,10.7],[8.8,10.7],[9.5,10.7],[10.1,10.7],[10.7,10.7],[11.3,10.7],[11.9,10.7],[12.5,10.7],[13.1,10.7],[13.7,10.7],[14.3,10.7],[14.9,10.7],[15.5,10.7],[16.1,10.7],[16.7,10.7],[17.3,10.7],[17.8,10.7],
[2.2,10.2],[9.2,10.2],[12.0,10.2],[15.0,10.2],[16.5,10.2],[12.9,10.3],[14.0,10.0],
[7.0,9.4],[7.7,9.4],[8.5,9.4],[9.3,9.4],[10.0,9.4],[10.8,9.4],[11.5,9.4],[12.2,9.4],[13.0,9.4],[13.7,9.4],[14.5,9.4],[15.3,9.4],[16.0,9.4],[16.8,9.4],[17.5,9.4],
[5.5,8.6],[6.2,8.6],[6.9,8.6],[7.6,8.6],[8.3,8.6],[9.1,8.6],[9.9,8.6],[10.7,8.6],[11.4,8.6],[12.1,8.6],[13.6,8.6],[14.8,8.6],[15.9,8.6],[16.6,8.6],[17.4,8.6],
[4.1,7.8],[6.6,7.8],[7.3,7.8],[8.0,7.8],[8.7,7.8],[9.4,7.8],[10.2,7.8],[10.9,7.8],[11.5,7.8],
[0.3,5.0],[2.7,5.3],[4.4,5.3],[7.1,5.3],[8.2,5.0],[9.0,5.2],[9.8,5.2],[10.6,5.2],[11.4,5.2],[12.6,5.0],[13.7,5.0],[17.5,5.4],[19.4,5.4],
[1.9,1.6],[2.4,1.6],[2.1,9.1],[3.6,10.8],[4.6,10.8],[3.3,8.3],[3.0,3.9],[5.2,0.4],[5.0,2.0],[6.0,2.6],[7.7,1.5],[10.1,3.3],[16.9,4.5],[4.0,3.2],[4.5,1.2],[3.5,4.6],[5.8,4.2],[6.5,3.6],[9.3,4.5],[11.0,4.6],[4.9,4.4],
[9.8,10.2],[11.0,10.1],[13.5,10.1],[16.0,10.1],[17.2,10.1],[8.9,9.0],[10.4,9.0],[11.9,9.0],[13.4,9.0],[14.9,9.0],[16.4,9.0],[17.2,8.9]];
const C3_MIN = [[1.1,0.4],[2.5,0.4],[3.8,0.4],[4.6,0.4],[5.2,0.4],[6.0,0.4],[7.3,0.4],[8.4,0.4],[9.0,0.4],[10.6,0.4],[11.2,0.4],[11.7,0.4],
[2.0,1.6],[2.9,1.6],[3.6,1.6],[4.4,1.6],[5.1,1.6],[5.8,1.6],[6.5,1.6],[7.2,1.6],[7.9,1.6],[8.6,1.6],[9.3,1.6],[10.0,1.6],[10.7,1.6],[11.4,1.6],[12.1,1.6],[12.9,1.6],[13.6,1.6],
[1.5,3.3],[2.3,3.3],[4.0,3.3],[5.3,3.3],[6.2,3.3],[7.0,3.3],[7.8,3.3],[8.6,3.3],[9.5,3.3],[10.3,3.3],[11.1,3.3],[11.9,3.3],[12.7,3.3],[13.4,3.3],[14.2,3.3],[15.3,3.3],
[3.6,4.3],[4.8,4.3],[6.0,4.3],[7.5,4.3],[9.1,4.3],[10.4,4.3],[11.6,4.3],[12.8,4.3],[14.0,4.3],[16.1,4.5],
[3.3,5.3],[4.9,5.3],[5.8,5.3],[10.0,5.3],[10.8,5.3],[11.6,5.3],[12.4,5.3],[13.1,5.3],[13.8,5.3],[14.5,5.3],[15.2,5.3],[16.7,5.5],[17.2,5.3],
[-0.2,2.5],[3.3,9.2],[4.75,8.4],[4.3,7.8],[6.3,8.6],[8.2,7.8],[9.6,8.9],[10.4,9.2],[10.9,8.4],[12.0,8.6],[12.0,7.8],[13.9,8.4],[14.5,8.6],[15.0,8.4],[15.5,8.6],[16.0,8.5],[16.7,8.6],[17.1,10.5],[16.1,10.3],[16.6,10.2],[18.9,5.5],[1.9,2.2],
[3.2,0.9],[4.9,0.9],[6.6,0.9],[8.0,0.9],[9.7,0.9],[10.9,0.9],[4.6,2.4],[6.0,2.4],[7.4,2.4],[8.9,2.4],[10.4,2.4],[11.8,2.4],[13.0,2.4],[10.8,3.9],[12.2,3.9],[13.4,4.6],[14.6,4.4]];
const C3_LIN = [[2.5,6.2],[3.0,5.5],[3.3,6.8],[3.7,5.2],[4.1,6.4],[4.5,7.6],[4.8,5.8],[5.2,8.3],[5.5,7.0],[5.8,9.0],[6.1,7.8],[6.4,10.1],[6.7,8.6],[7.0,11.2],[7.3,9.4],[7.6,7.8],[7.9,10.4],[8.2,12.0],[8.5,9.2],[8.8,11.3],[9.1,13.0],[9.4,10.2],[9.7,12.3],[10.0,8.8],[10.3,11.5],[10.6,13.6],[10.9,10.5],[11.2,12.6],[11.5,14.5],[11.8,11.3],[12.1,13.5],[12.4,15.6],[12.7,12.2],[13.0,14.2],[13.3,16.4],[13.6,13.0],[13.9,15.0],[14.2,17.0],[14.5,14.0],[14.8,16.0],[15.1,18.2],[15.4,16.7],[15.7,19.0],[16.0,17.5],[16.3,20.2],[16.6,18.0],[16.9,20.8],[9.0,6.8],[11.0,7.6],[12.0,9.8],[5.0,4.5],[6.0,11.6],[7.0,13.0],[8.0,14.6],[4.2,9.2],[3.0,4.4],
[0.2,7.5],[1.8,14.1],[1.8,13.2],[3.5,19.6],[4.5,18.5],[4.7,17.1],[3.6,15.4],[3.7,10.4],[1.4,2.0],[2.3,3.1],[4.9,0.6],[4.0,2.1],[5.5,2.8],[7.5,2.75],[6.5,17.9],[8.5,17.0],[9.5,19.1],[10.3,18.4],[10.6,17.7],[12.3,17.4],[13.9,19.1],[16.4,21.4],[17.3,21.9],[17.3,19.0],[16.7,14.7],[16.4,13.1],[20.8,11.0],[15.5,8.9],[16.7,9.2],[12.7,5.5],[11.5,5.2],[10.0,6.1],[2.3,9.6],
[6.0,8.3],[6.5,9.5],[7.0,8.2],[7.5,10.6],[7.8,9.0],[8.3,10.8],[8.6,12.6],[8.9,10.0],[9.2,11.7],[9.6,13.6],[9.9,10.8],[10.2,12.6],[10.5,10.0],[10.8,12.0],[11.1,13.8],[11.4,11.2],[11.7,12.9],[12.0,14.6],[12.3,11.7],[12.6,13.8],[12.9,12.4],[13.2,15.0],[13.5,14.2],[13.8,16.0],[14.1,15.2],[14.4,16.2],[14.7,15.0],[15.0,17.0],[15.6,17.6],[16.2,18.6],[16.5,21.0],[16.8,19.4],[9.0,8.0],[10.0,11.2],[11.0,9.4]];

// ---------- assembly ----------
const PANEL_DATA = [[M1_MAX,M1_MIN,M1_LIN],[M2_MAX,M2_MIN,M2_LIN],[M3_MAX,M3_MIN,M3_LIN],
                    [C1_MAX,C1_MIN,C1_LIN],[C2_MAX,C2_MIN,C2_LIN],[C3_MAX,C3_MIN,C3_LIN]];
const PANEL_RANGE = [M1_RANGE,M2_RANGE,M3_RANGE,C1_RANGE,C2_RANGE,C3_RANGE];
const PANEL_TICKS = [M1_TICKS,M2_TICKS,M3_TICKS,C1_TICKS,C2_TICKS,C3_TICKS];

const page = document.getElementById('page');
const FONT = "'Liberation Sans', Arial, Helvetica, sans-serif";
Chart.defaults.font.family = FONT;
Chart.defaults.color = '#000';

// layout (pixels)
const COL_X = [161, 378, 595];
const COL_W = [126, 128, 128];
const COL_PADR = [26, 26, 3];
const ROW_TOP = [61, 250, 439, 705, 893, 1083];
const ROW_BOT = [190, 378, 568, 832, 1022, 1213];
const ROW_PADT = [16, 50, 16, 16, 50, 16];
const WY = 70, HX = 66;

function addLabel(text, cx, cy, size) {
  const d = document.createElement('div');
  d.className = 'lbl';
  d.textContent = text;
  d.style.left = cx + 'px'; d.style.top = cy + 'px'; d.style.fontSize = size + 'px';
  page.appendChild(d);
}

function axisCfg(range, ticks, title, isX) {
  return {
    type: 'linear', min: range[0], max: range[1],
    position: isX ? 'bottom' : 'left',
    afterBuildTicks: s => { s.ticks = ticks.map(v => ({value: v})); },
    afterFit: s => {
      if (isX) s.height = HX; else s.width = WY;
      s.paddingLeft = 0; s.paddingRight = 0; s.paddingTop = 0; s.paddingBottom = 0;
    },
    grid: {display: true, drawOnChartArea: false, drawTicks: true, tickLength: 6, color: '#000', lineWidth: 1.6},
    border: {display: true, color: '#000', width: 2},
    ticks: {color: '#000', font: {size: 23}, padding: isX ? 5 : 7, maxRotation: 0, minRotation: 0, autoSkip: false,
            callback: v => String(v)},
    title: {display: !!title, text: title || '', color: '#000', font: {size: 24}, padding: 0}
  };
}

function makePanel(r, c) {
  const pts = PANEL_DATA[r][c], range = PANEL_RANGE[r][c], ticks = PANEL_TICKS[r][c];
  const cv = document.createElement('canvas');
  const ph = ROW_BOT[r] - ROW_TOP[r];
  const padT = ROW_PADT[r], padR = COL_PADR[c];
  const w = WY + COL_W[c] + padR, h = padT + ph + HX;
  cv.width = w; cv.height = h;
  cv.style.width = w + 'px'; cv.style.height = h + 'px';
  cv.style.left = (COL_X[c] - WY) + 'px';
  cv.style.top = (ROW_TOP[r] - padT) + 'px';
  page.appendChild(cv);
  const yTitle = (r === 1 || r === 4) ? Y_TITLES[c] : '';
  const xTitle = (r === 2 || r === 5) ? X_TITLE : '';
  new Chart(cv, {
    type: 'scatter',
    data: {datasets: [
      {data: [{x: range[0], y: range[0]}, {x: range[1], y: range[1]}], showLine: true,
       borderColor: '#868686', borderWidth: 2.2, pointRadius: 0, order: 0},
      {data: pts.map(p => ({x: p[0], y: p[1]})), pointRadius: 2.9, borderWidth: 2.1,
       borderColor: '#000', backgroundColor: 'rgba(0,0,0,0)', order: 1}
    ]},
    options: {
      responsive: false, animation: false, events: [],
      layout: {padding: {left: 0, right: padR, top: padT, bottom: 0}},
      plugins: {legend: {display: false}, tooltip: {enabled: false}},
      scales: {x: axisCfg(range, ticks, xTitle, true), y: axisCfg(range, ticks, yTitle, false)}
    }
  });
}

for (let r = 0; r < 6; r++) for (let c = 0; c < 3; c++) makePanel(r, c);

// section headings, column titles, row labels
addLabel(SECTION_1[0], 70, 14, 30);
addLabel(SECTION_1[1], 70, 47, 30);
addLabel(SECTION_2[0], 70, 663, 30);
addLabel(SECTION_2[1], 69, 694, 30);
const TITLE_X = [223, 443, 660];
COL_NAMES.forEach((t, i) => { addLabel(t, TITLE_X[i], 33, 24); addLabel(t, TITLE_X[i], 680, 24); });
const ROW_LABEL_POS = [[32,125],[26,312],[21,502],[18,773],[28,962],[19,1150]];
ROW_NAMES.forEach((t, i) => addLabel(t, ROW_LABEL_POS[i][0], ROW_LABEL_POS[i][1], 30));
</script></body></html>
